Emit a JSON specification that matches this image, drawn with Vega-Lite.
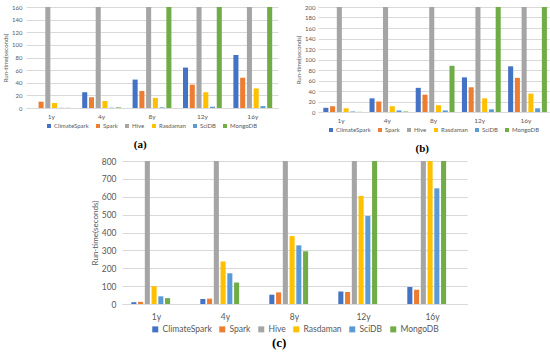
{
  "$schema": "https://vega.github.io/schema/vega-lite/v6.json",
  "background": "white",
  "padding": {"left": 2, "top": 4, "right": 2, "bottom": 0},
  "config": {
    "view": {"stroke": null},
    "font": "Lato",
    "axis": {"labelColor": "#595959", "titleColor": "#595959", "titleFontWeight": "normal", "gridColor": "#D9D9D9", "domainColor": "#D9D9D9", "ticks": false, "labelFont": "Lato", "titleFont": "Lato"},
    "legend": {"layout": {"bottom": {"anchor": "middle"}}, "labelColor": "#595959", "labelFont": "Lato", "symbolType": "square", "symbolStrokeWidth": 0},
    "title": {"font": "Liberation Serif", "fontWeight": "bold", "color": "black", "orient": "bottom", "anchor": "middle", "frame": "bounds"}
  },
  "datasets": {
    "a": [
      {"year": "1y", "system": "ClimateSpark", "value": 0},
      {"year": "1y", "system": "Spark", "value": 10},
      {"year": "1y", "system": "Hive", "value": 160},
      {"year": "1y", "system": "Rasdaman", "value": 8},
      {"year": "1y", "system": "SciDB", "value": 0.3},
      {"year": "1y", "system": "MongoDB", "value": 0.3},
      {"year": "4y", "system": "ClimateSpark", "value": 25},
      {"year": "4y", "system": "Spark", "value": 17},
      {"year": "4y", "system": "Hive", "value": 160},
      {"year": "4y", "system": "Rasdaman", "value": 11},
      {"year": "4y", "system": "SciDB", "value": 0.5},
      {"year": "4y", "system": "MongoDB", "value": 1},
      {"year": "8y", "system": "ClimateSpark", "value": 45},
      {"year": "8y", "system": "Spark", "value": 27},
      {"year": "8y", "system": "Hive", "value": 160},
      {"year": "8y", "system": "Rasdaman", "value": 16},
      {"year": "8y", "system": "SciDB", "value": 1},
      {"year": "8y", "system": "MongoDB", "value": 160},
      {"year": "12y", "system": "ClimateSpark", "value": 64},
      {"year": "12y", "system": "Spark", "value": 37},
      {"year": "12y", "system": "Hive", "value": 160},
      {"year": "12y", "system": "Rasdaman", "value": 25},
      {"year": "12y", "system": "SciDB", "value": 2},
      {"year": "12y", "system": "MongoDB", "value": 160},
      {"year": "16y", "system": "ClimateSpark", "value": 84},
      {"year": "16y", "system": "Spark", "value": 48},
      {"year": "16y", "system": "Hive", "value": 160},
      {"year": "16y", "system": "Rasdaman", "value": 31},
      {"year": "16y", "system": "SciDB", "value": 3},
      {"year": "16y", "system": "MongoDB", "value": 160}
    ],
    "b": [
      {"year": "1y", "system": "ClimateSpark", "value": 8},
      {"year": "1y", "system": "Spark", "value": 11},
      {"year": "1y", "system": "Hive", "value": 200},
      {"year": "1y", "system": "Rasdaman", "value": 7},
      {"year": "1y", "system": "SciDB", "value": 1},
      {"year": "1y", "system": "MongoDB", "value": 0.3},
      {"year": "4y", "system": "ClimateSpark", "value": 26},
      {"year": "4y", "system": "Spark", "value": 20},
      {"year": "4y", "system": "Hive", "value": 200},
      {"year": "4y", "system": "Rasdaman", "value": 11},
      {"year": "4y", "system": "SciDB", "value": 3},
      {"year": "4y", "system": "MongoDB", "value": 1},
      {"year": "8y", "system": "ClimateSpark", "value": 46},
      {"year": "8y", "system": "Spark", "value": 33},
      {"year": "8y", "system": "Hive", "value": 200},
      {"year": "8y", "system": "Rasdaman", "value": 13},
      {"year": "8y", "system": "SciDB", "value": 3},
      {"year": "8y", "system": "MongoDB", "value": 88},
      {"year": "12y", "system": "ClimateSpark", "value": 66},
      {"year": "12y", "system": "Spark", "value": 47},
      {"year": "12y", "system": "Hive", "value": 200},
      {"year": "12y", "system": "Rasdaman", "value": 26},
      {"year": "12y", "system": "SciDB", "value": 5},
      {"year": "12y", "system": "MongoDB", "value": 200},
      {"year": "16y", "system": "ClimateSpark", "value": 87},
      {"year": "16y", "system": "Spark", "value": 65},
      {"year": "16y", "system": "Hive", "value": 200},
      {"year": "16y", "system": "Rasdaman", "value": 35},
      {"year": "16y", "system": "SciDB", "value": 7},
      {"year": "16y", "system": "MongoDB", "value": 200}
    ],
    "c": [
      {"year": "1y", "system": "ClimateSpark", "value": 10},
      {"year": "1y", "system": "Spark", "value": 12},
      {"year": "1y", "system": "Hive", "value": 800},
      {"year": "1y", "system": "Rasdaman", "value": 100},
      {"year": "1y", "system": "SciDB", "value": 43},
      {"year": "1y", "system": "MongoDB", "value": 33},
      {"year": "4y", "system": "ClimateSpark", "value": 28},
      {"year": "4y", "system": "Spark", "value": 30},
      {"year": "4y", "system": "Hive", "value": 800},
      {"year": "4y", "system": "Rasdaman", "value": 238},
      {"year": "4y", "system": "SciDB", "value": 172},
      {"year": "4y", "system": "MongoDB", "value": 120},
      {"year": "8y", "system": "ClimateSpark", "value": 52},
      {"year": "8y", "system": "Spark", "value": 65},
      {"year": "8y", "system": "Hive", "value": 800},
      {"year": "8y", "system": "Rasdaman", "value": 380},
      {"year": "8y", "system": "SciDB", "value": 328},
      {"year": "8y", "system": "MongoDB", "value": 295},
      {"year": "12y", "system": "ClimateSpark", "value": 70},
      {"year": "12y", "system": "Spark", "value": 67},
      {"year": "12y", "system": "Hive", "value": 800},
      {"year": "12y", "system": "Rasdaman", "value": 605},
      {"year": "12y", "system": "SciDB", "value": 492},
      {"year": "12y", "system": "MongoDB", "value": 800},
      {"year": "16y", "system": "ClimateSpark", "value": 95},
      {"year": "16y", "system": "Spark", "value": 80},
      {"year": "16y", "system": "Hive", "value": 800},
      {"year": "16y", "system": "Rasdaman", "value": 800},
      {"year": "16y", "system": "SciDB", "value": 647},
      {"year": "16y", "system": "MongoDB", "value": 800}
    ]
  },
  "spacing": 3,
  "resolve": {"scale": {"color": "independent"}, "legend": {"color": "independent"}},
  "vconcat": [
    {
      "spacing": 17,
      "resolve": {"scale": {"color": "independent"}, "legend": {"color": "independent"}},
      "hconcat": [
        {
          "data": {"name": "a"},
          "title": {"text": "(a)", "fontSize": 11, "offset": 10},
          "width": 252,
          "height": 101,
          "mark": {"type": "bar", "clip": true},
          "encoding": {
            "x": {"field": "year", "type": "nominal", "sort": ["1y", "4y", "8y", "12y", "16y"], "scale": {"paddingInner": 0.23, "paddingOuter": 0.115}, "axis": {"title": null, "labelAngle": 0, "labelFontSize": 6.5, "labelPadding": 5, "grid": false}},
            "xOffset": {"field": "system", "type": "nominal", "sort": ["ClimateSpark", "Spark", "Hive", "Rasdaman", "SciDB", "MongoDB"], "scale": {"paddingInner": 0.25}},
            "y": {"field": "value", "type": "quantitative", "scale": {"domain": [0, 160], "nice": false}, "axis": {"values": [0, 20, 40, 60, 80, 100, 120, 140, 160], "title": "Run-time(seconds)", "titleFontSize": 6, "labelFontSize": 6, "labelPadding": 4, "titlePadding": 3, "domain": false}},
            "color": {"field": "system", "type": "nominal", "sort": ["ClimateSpark", "Spark", "Hive", "Rasdaman", "SciDB", "MongoDB"], "scale": {"domain": ["ClimateSpark", "Spark", "Hive", "Rasdaman", "SciDB", "MongoDB"], "range": ["#4472C4", "#ED7D31", "#A5A5A5", "#FFC000", "#5B9BD5", "#70AD47"]}, "legend": {"orient": "bottom", "direction": "horizontal", "title": null, "symbolSize": 16, "labelFontSize": 6, "columnPadding": 6, "labelOffset": 2, "offset": 3}}
          }
        },
        {
          "data": {"name": "b"},
          "title": {"text": "(b)", "fontSize": 11, "offset": 10},
          "width": 231,
          "height": 105,
          "mark": {"type": "bar", "clip": true},
          "encoding": {
            "x": {"field": "year", "type": "nominal", "sort": ["1y", "4y", "8y", "12y", "16y"], "scale": {"paddingInner": 0.23, "paddingOuter": 0.115}, "axis": {"title": null, "labelAngle": 0, "labelFontSize": 6.5, "labelPadding": 5, "grid": false}},
            "xOffset": {"field": "system", "type": "nominal", "sort": ["ClimateSpark", "Spark", "Hive", "Rasdaman", "SciDB", "MongoDB"], "scale": {"paddingInner": 0.25}},
            "y": {"field": "value", "type": "quantitative", "scale": {"domain": [0, 200], "nice": false}, "axis": {"values": [0, 20, 40, 60, 80, 100, 120, 140, 160, 180, 200], "title": "Run-time(seconds)", "titleFontSize": 6, "labelFontSize": 6, "labelPadding": 3, "titlePadding": 3, "domain": false}},
            "color": {"field": "system", "type": "nominal", "sort": ["ClimateSpark", "Spark", "Hive", "Rasdaman", "SciDB", "MongoDB"], "scale": {"domain": ["ClimateSpark", "Spark", "Hive", "Rasdaman", "SciDB", "MongoDB"], "range": ["#4472C4", "#ED7D31", "#A5A5A5", "#FFC000", "#5B9BD5", "#70AD47"]}, "legend": {"orient": "bottom", "direction": "horizontal", "title": null, "symbolSize": 16, "labelFontSize": 6, "columnPadding": 6, "labelOffset": 2, "offset": 3}}
          }
        }
      ]
    },
    {
      "spacing": 0,
      "resolve": {"scale": {"color": "independent"}, "legend": {"color": "independent"}},
      "hconcat": [
        {
          "data": {"values": []},
          "width": 65,
          "height": 10,
          "mark": {"type": "text"},
          "encoding": {}
        },
        {
          "data": {"name": "c"},
          "title": {"text": "(c)", "fontSize": 13, "offset": 3},
          "width": 345,
          "height": 143,
          "mark": {"type": "bar", "clip": true},
          "encoding": {
            "x": {"field": "year", "type": "nominal", "sort": ["1y", "4y", "8y", "12y", "16y"], "scale": {"paddingInner": 0.27, "paddingOuter": 0.135}, "axis": {"title": null, "labelAngle": 0, "labelFontSize": 8.5, "labelPadding": 8, "grid": false}},
            "xOffset": {"field": "system", "type": "nominal", "sort": ["ClimateSpark", "Spark", "Hive", "Rasdaman", "SciDB", "MongoDB"], "scale": {"paddingInner": 0.2}},
            "y": {"field": "value", "type": "quantitative", "scale": {"domain": [0, 800], "nice": false}, "axis": {"values": [0, 100, 200, 300, 400, 500, 600, 700, 800], "title": "Run-time(seconds)", "titleFontSize": 8, "labelFontSize": 8.5, "labelPadding": 6, "titlePadding": 2, "domain": false}},
            "color": {"field": "system", "type": "nominal", "sort": ["ClimateSpark", "Spark", "Hive", "Rasdaman", "SciDB", "MongoDB"], "scale": {"domain": ["ClimateSpark", "Spark", "Hive", "Rasdaman", "SciDB", "MongoDB"], "range": ["#4472C4", "#ED7D31", "#A5A5A5", "#FFC000", "#5B9BD5", "#70AD47"]}, "legend": {"orient": "bottom", "direction": "horizontal", "title": null, "symbolSize": 36, "labelFontSize": 8.5, "columnPadding": 6, "labelOffset": 3, "offset": 4}}
          }
        }
      ]
    }
  ]
}
